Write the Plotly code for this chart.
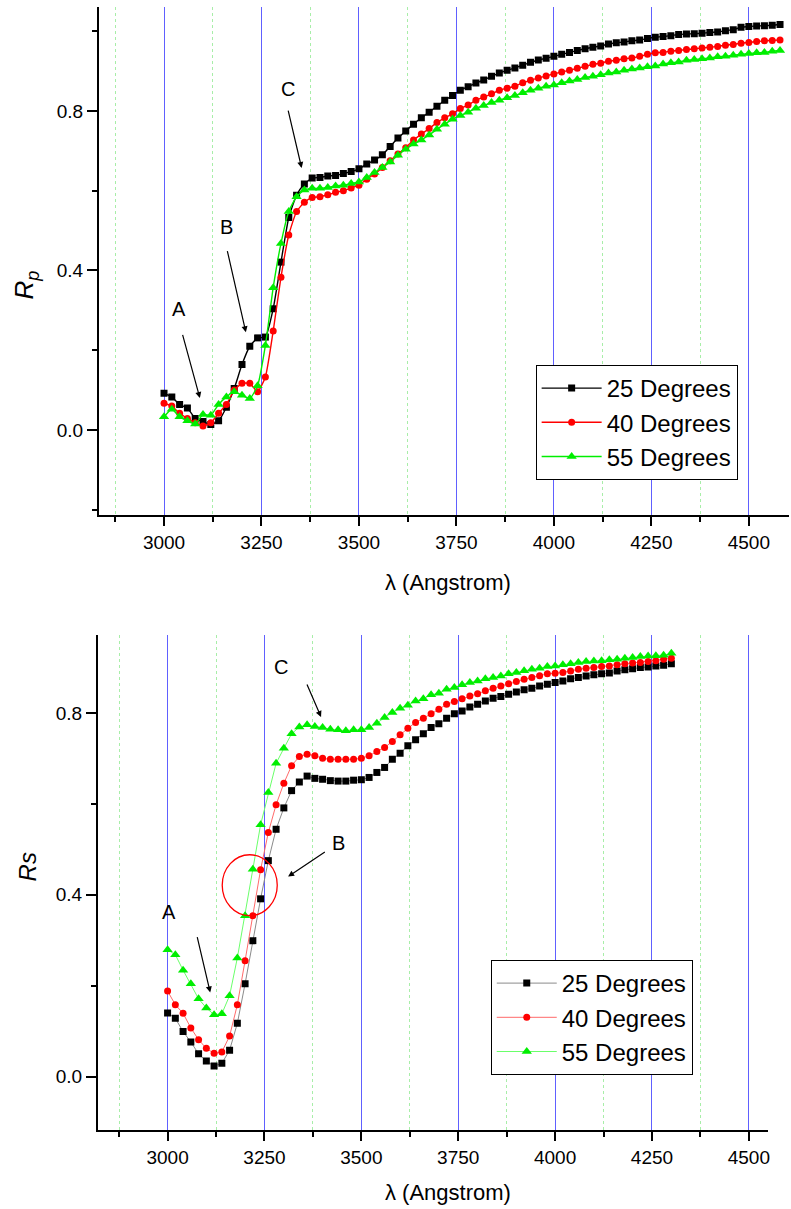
import plotly.graph_objects as go

# Wavelength grids (Angstrom)
wl_p = list(range(3000, 4600, 20))   # 3000 .. 4580
wl_s = list(range(3000, 4320, 20))   # 3000 .. 4300

# p-polarised reflectance
rp_25 = [0.092, 0.083, 0.064, 0.055, 0.029, 0.021, 0.014, 0.023, 0.057, 0.104,
         0.164, 0.210, 0.231, 0.233, 0.304, 0.421, 0.533, 0.589, 0.617, 0.632,
         0.633, 0.637, 0.638, 0.643, 0.648, 0.655, 0.667, 0.677, 0.690, 0.711,
         0.732, 0.750, 0.767, 0.783, 0.797, 0.812, 0.827, 0.839, 0.852, 0.861,
         0.870, 0.878, 0.887, 0.895, 0.902, 0.908, 0.915, 0.922, 0.928, 0.932,
         0.937, 0.942, 0.947, 0.952, 0.956, 0.960, 0.963, 0.968, 0.971, 0.973,
         0.976, 0.978, 0.982, 0.985, 0.987, 0.989, 0.992, 0.993, 0.994, 0.995,
         0.997, 0.998, 1.001, 1.004, 1.010, 1.012, 1.013, 1.014, 1.015, 1.017]
rp_40 = [0.067, 0.060, 0.042, 0.029, 0.018, 0.010, 0.018, 0.042, 0.064, 0.100,
         0.117, 0.117, 0.096, 0.133, 0.248, 0.383, 0.489, 0.548, 0.571, 0.583,
         0.585, 0.590, 0.596, 0.600, 0.607, 0.614, 0.629, 0.642, 0.658, 0.675,
         0.692, 0.708, 0.727, 0.742, 0.756, 0.771, 0.783, 0.793, 0.806, 0.815,
         0.827, 0.835, 0.843, 0.852, 0.857, 0.862, 0.871, 0.877, 0.883, 0.888,
         0.893, 0.898, 0.902, 0.907, 0.912, 0.917, 0.920, 0.925, 0.927, 0.931,
         0.933, 0.937, 0.942, 0.946, 0.947, 0.950, 0.952, 0.954, 0.956, 0.958,
         0.960, 0.962, 0.965, 0.967, 0.970, 0.972, 0.974, 0.976, 0.977, 0.978]
rp_55 = [0.033, 0.052, 0.033, 0.023, 0.015, 0.039, 0.037, 0.064, 0.083, 0.096,
         0.087, 0.079, 0.111, 0.212, 0.357, 0.468, 0.548, 0.585, 0.602, 0.606,
         0.606, 0.608, 0.612, 0.614, 0.618, 0.622, 0.633, 0.646, 0.658, 0.672,
         0.689, 0.704, 0.717, 0.727, 0.740, 0.754, 0.767, 0.779, 0.789, 0.797,
         0.807, 0.814, 0.821, 0.827, 0.833, 0.839, 0.846, 0.852, 0.857, 0.862,
         0.865, 0.871, 0.875, 0.879, 0.884, 0.887, 0.891, 0.895, 0.898, 0.902,
         0.905, 0.908, 0.911, 0.913, 0.918, 0.921, 0.923, 0.927, 0.929, 0.931,
         0.933, 0.936, 0.937, 0.940, 0.942, 0.944, 0.946, 0.947, 0.950, 0.952]

# s-polarised reflectance
rs_25 = [0.140, 0.128, 0.099, 0.076, 0.050, 0.034, 0.023, 0.029, 0.058, 0.117,
         0.204, 0.299, 0.391, 0.475, 0.544, 0.591, 0.629, 0.648, 0.661, 0.656,
         0.654, 0.651, 0.650, 0.650, 0.652, 0.653, 0.658, 0.669, 0.680, 0.698,
         0.711, 0.728, 0.741, 0.754, 0.768, 0.776, 0.788, 0.798, 0.804, 0.813,
         0.819, 0.826, 0.832, 0.836, 0.841, 0.846, 0.851, 0.854, 0.859, 0.863,
         0.867, 0.870, 0.875, 0.878, 0.881, 0.884, 0.886, 0.888, 0.892, 0.895,
         0.897, 0.900, 0.901, 0.903, 0.905, 0.908]
rs_40 = [0.188, 0.158, 0.139, 0.107, 0.081, 0.062, 0.051, 0.054, 0.089, 0.158,
         0.255, 0.354, 0.455, 0.537, 0.598, 0.645, 0.684, 0.704, 0.709, 0.706,
         0.700, 0.698, 0.698, 0.698, 0.698, 0.700, 0.706, 0.715, 0.724, 0.737,
         0.752, 0.766, 0.779, 0.788, 0.798, 0.808, 0.819, 0.825, 0.831, 0.837,
         0.842, 0.849, 0.854, 0.859, 0.864, 0.869, 0.874, 0.878, 0.882, 0.886,
         0.887, 0.889, 0.892, 0.896, 0.898, 0.900, 0.902, 0.903, 0.906, 0.908,
         0.910, 0.911, 0.913, 0.915, 0.918, 0.920]
rs_55 = [0.279, 0.268, 0.234, 0.204, 0.171, 0.151, 0.136, 0.138, 0.178, 0.261,
         0.354, 0.456, 0.554, 0.625, 0.689, 0.722, 0.754, 0.769, 0.774, 0.770,
         0.768, 0.764, 0.763, 0.761, 0.763, 0.763, 0.768, 0.777, 0.790, 0.801,
         0.810, 0.817, 0.826, 0.831, 0.840, 0.843, 0.852, 0.856, 0.862, 0.867,
         0.870, 0.875, 0.878, 0.881, 0.886, 0.889, 0.893, 0.896, 0.898, 0.902,
         0.903, 0.906, 0.908, 0.911, 0.913, 0.914, 0.915, 0.917, 0.918, 0.920,
         0.922, 0.924, 0.925, 0.926, 0.927, 0.931]

series_names = ["25 Degrees", "40 Degrees", "55 Degrees"]
marker_colors = ["#000000", "#ff0000", "#00ee00"]
thin_line_colors = ["#8a8a8a", "#ff6a6a", "#6aff6a"]
symbols = ["square", "circle", "triangle-up"]
marker_sizes = [7, 7, 9]

W, H = 791, 1209
FONT = "Liberation Sans, Arial, sans-serif"

fig = go.Figure()

for ys, name, col, sym, ms in zip([rp_25, rp_40, rp_55], series_names,
                                  marker_colors, symbols, marker_sizes):
    fig.add_trace(go.Scatter(
        x=wl_p, y=ys, name=name, mode="lines+markers",
        line=dict(color=col, width=1.4, shape="spline", smoothing=0.5),
        marker=dict(symbol=sym, size=ms, color=col),
        xaxis="x", yaxis="y", legend="legend"))

for ys, name, col, lcol, sym, ms in zip([rs_25, rs_40, rs_55], series_names,
                                        marker_colors, thin_line_colors,
                                        symbols, marker_sizes):
    fig.add_trace(go.Scatter(
        x=wl_s, y=ys, name=name, mode="lines+markers",
        line=dict(color=lcol, width=1),
        marker=dict(symbol=sym, size=ms, color=col),
        xaxis="x2", yaxis="y2", legend="legend2"))


def xaxis_style(rng, domain, anchor):
    return dict(
        domain=domain, range=rng, anchor=anchor,
        tick0=3000, dtick=250, ticks="outside", ticklen=9, tickwidth=1.5,
        tickcolor="black", showline=True, linecolor="black", linewidth=1.5,
        showgrid=True, gridcolor="#6060ff", gridwidth=1,
        zeroline=False, tickfont=dict(family=FONT, size=19, color="black"),
        minor=dict(dtick=125, tick0=2875, ticks="outside", ticklen=5,
                   tickwidth=1.5, tickcolor="black", showgrid=True,
                   gridcolor="#a8eea8", griddash="dot", gridwidth=1),
    )


def yaxis_style(rng, domain, anchor):
    return dict(
        domain=domain, range=rng, anchor=anchor,
        tick0=0, dtick=0.4, tickformat=".1f", ticks="outside", ticklen=10,
        tickwidth=1.5, tickcolor="black", showline=True, linecolor="black",
        linewidth=1.5, showgrid=False, zeroline=False,
        tickfont=dict(family=FONT, size=19, color="black"),
        minor=dict(dtick=0.2, tick0=0, ticks="outside", ticklen=5,
                   tickwidth=1.5, tickcolor="black", showgrid=False),
    )


legend_common = dict(
    xanchor="left", yanchor="bottom", bgcolor="white", bordercolor="black",
    borderwidth=1, font=dict(family=FONT, size=24, color="black"),
    tracegroupgap=0, itemwidth=60)

arrow_style = dict(showarrow=True, arrowhead=2, arrowsize=1, arrowwidth=1.2,
                   arrowcolor="black", text=" ", font=dict(size=2))
label_font = dict(family=FONT, size=20, color="black")

annotations = [
    # axis titles
    dict(xref="paper", yref="paper", x=26 / W, y=1 - 268 / H, showarrow=False,
         xanchor="center", text="<i>R</i><sub><i>p</i></sub>", textangle=-90,
         font=dict(family=FONT, size=26, color="black")),
    dict(xref="paper", yref="paper", x=449 / W, y=1 - 582 / H, showarrow=False,
         text="λ (Angstrom)", font=dict(family=FONT, size=22, color="black")),
    dict(xref="paper", yref="paper", x=28 / W, y=1 - 883 / H, showarrow=False,
         xanchor="center", text="<i>Rs</i>", textangle=-90,
         font=dict(family=FONT, size=24, color="black")),
    dict(xref="paper", yref="paper", x=449 / W, y=1 - 1207 / H, showarrow=False,
         yanchor="bottom",
         text="λ (Angstrom)", font=dict(family=FONT, size=22, color="black")),
    # feature labels, p-polarisation
    dict(xref="x", yref="y", x=3038, y=0.303, text="A", showarrow=False, font=label_font),
    dict(xref="x", yref="y", axref="x", ayref="y", x=3092, y=0.08, ax=3046, ay=0.245, **arrow_style),
    dict(xref="x", yref="y", x=3161, y=0.508, text="B", showarrow=False, font=label_font),
    dict(xref="x", yref="y", axref="x", ayref="y", x=3210, y=0.245, ax=3161, ay=0.455, **arrow_style),
    dict(xref="x", yref="y", x=3317, y=0.855, text="C", showarrow=False, font=label_font),
    dict(xref="x", yref="y", axref="x", ayref="y", x=3353, y=0.657, ax=3317, ay=0.807, **arrow_style),
    # feature labels, s-polarisation
    dict(xref="x2", yref="y2", x=3003, y=0.363, text="A", showarrow=False, font=label_font),
    dict(xref="x2", yref="y2", axref="x2", ayref="y2", x=3110, y=0.185, ax=3075, ay=0.312, **arrow_style),
    dict(xref="x2", yref="y2", x=3442, y=0.514, text="B", showarrow=False, font=label_font),
    dict(xref="x2", yref="y2", axref="x2", ayref="y2", x=3311, y=0.44, ax=3411, ay=0.497, **arrow_style),
    dict(xref="x2", yref="y2", x=3293, y=0.901, text="C", showarrow=False, font=label_font),
    dict(xref="x2", yref="y2", axref="x2", ayref="y2", x=3396, y=0.791, ax=3357, ay=0.868, **arrow_style),
]

fig.update_layout(
    width=W, height=H, margin=dict(l=0, r=0, t=0, b=0),
    paper_bgcolor="white", plot_bgcolor="white",
    font=dict(family=FONT, color="black"),
    xaxis=xaxis_style([2832.6, 4603], [99 / W, 1.0], "y"),
    yaxis=yaxis_style([-0.2132, 1.0608], [1 - 515 / H, 1 - 7 / H], "x"),
    xaxis2=xaxis_style([2819.8, 4549.5], [98 / W, 770 / W], "y2"),
    yaxis2=yaxis_style([-0.1176, 0.9714], [1 - 1130 / H, 1 - 635 / H], "x2"),
    legend=dict(x=537 / W, y=1 - 480 / H, **legend_common),
    legend2=dict(x=492 / W, y=1 - 1075 / H, **legend_common),
    annotations=annotations,
    shapes=[dict(type="circle", xref="x2", yref="y2", x0=3141, x1=3283,
                 y0=0.354, y1=0.488, line=dict(color="#ff0000", width=1.3))],
    showlegend=True,
)

fig.write_html("out.html")
